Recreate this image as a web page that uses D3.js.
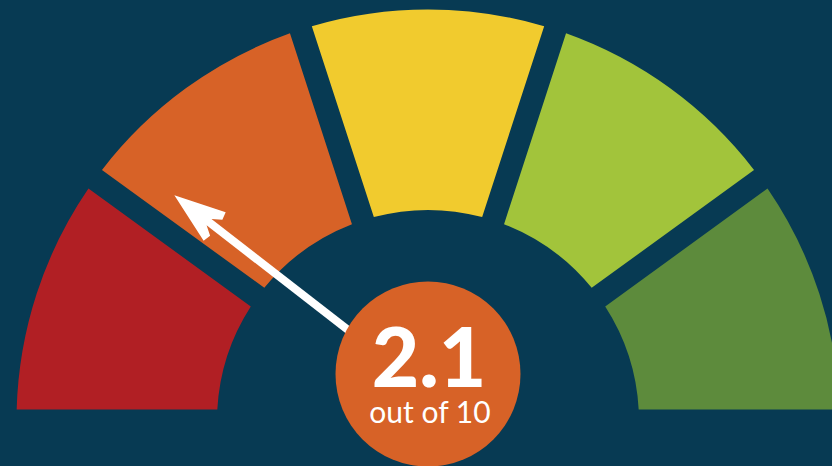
<!DOCTYPE html>
<html>
<head>
<meta charset="utf-8">
<script src="https://cdn.jsdelivr.net/npm/d3@7"></script>
<style>
  html, body { margin: 0; padding: 0; background: #073a53; overflow: hidden; }
  svg { display: block; }
</style>
</head>
<body>
<div id="chart"></div>
<script>
const width = 832;
const height = 466;

// gauge bands, low score to high score
const band_names = ["0-2", "2-4", "4-6", "6-8", "8-10"];
const band_sizes = [2, 2, 2, 2, 2];
const band_colors = ["#b11f24", "#d76227", "#f1cb2e", "#a2c43b", "#5d8b3c"];
const score = 2.1;
const score_max = 10;
const score_label = "2.1";
const score_caption = "out of 10";

const cx = 428, cy = 421;
const outer_r = 411.5, inner_r = 211;
const gap = 23;

const svg = d3.select('#chart')
  .append('svg')
    .attr('width', width)
    .attr('height', height);

svg.append('rect')
    .attr('width', width)
    .attr('height', height)
    .attr('fill', '#073a53');

const g = svg.append('g')
    .attr('transform', `translate(${cx},${cy})`);

const pie = d3.pie()
  .sort(null)
  .value(d => d.size)
  .startAngle(-Math.PI / 2)
  .endAngle(Math.PI / 2)
  .padAngle(gap / outer_r);

const arc = d3.arc()
  .innerRadius(inner_r)
  .outerRadius(outer_r)
  .padRadius(outer_r);

const bands = band_names.map((name, i) => ({ name: name, size: band_sizes[i], color: band_colors[i] }));

g.selectAll('.band')
    .data(pie(bands))
  .join('path')
    .attr('class', 'band')
    .attr('d', arc)
    .attr('fill', d => d.data.color);

// needle
const angle_scale = d3.scaleLinear()
  .domain([0, score_max])
  .range([-90, 90]);

const needle_len = 321;
const pivot_dy = -29;
const needle = g.append('g')
    .attr('transform', `translate(0,${pivot_dy}) rotate(${angle_scale(score)})`);

needle.append('rect')
    .attr('x', -4)
    .attr('y', -needle_len + 30)
    .attr('width', 8)
    .attr('height', needle_len - 30)
    .attr('fill', '#ffffff');

needle.append('path')
    .attr('d', `M0,${-needle_len} L18,${-needle_len + 51} L10,${-needle_len + 53} L4,${-needle_len + 44} L-4,${-needle_len + 44} L-10,${-needle_len + 53} L-18,${-needle_len + 51} Z`)
    .attr('fill', '#ffffff');

// score badge
const badge = svg.append('g')
    .attr('transform', 'translate(428,374)');

badge.append('circle')
    .attr('r', 92.5)
    .attr('fill', band_colors[1]);

badge.append('text')
    .attr('text-anchor', 'middle')
    .attr('x', 1)
    .attr('y', 13)
    .attr('fill', '#ffffff')
    .style('font-family', 'Lato, sans-serif')
    .style('font-weight', 900)
    .style('font-size', '82px')
    .text(score_label);

badge.append('text')
    .attr('text-anchor', 'middle')
    .attr('x', 2)
    .attr('y', 49)
    .attr('fill', '#ffffff')
    .style('font-family', 'Lato, sans-serif')
    .style('font-weight', 400)
    .style('font-size', '30px')
    .text(score_caption);
</script>
</body>
</html>
